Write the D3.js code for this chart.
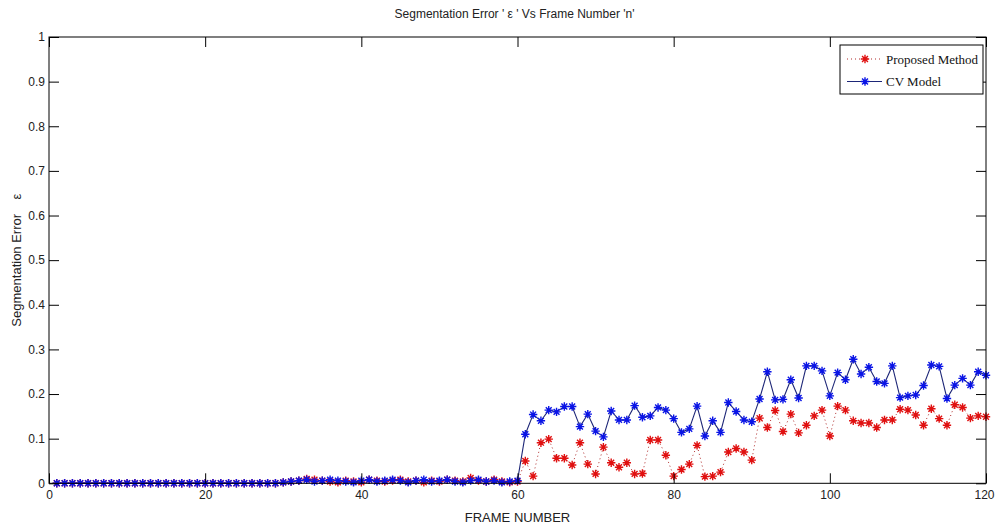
<!DOCTYPE html>
<html>
<head>
<meta charset="utf-8">
<script src="https://cdn.jsdelivr.net/npm/d3@7/dist/d3.min.js"></script>
<style>
  html, body { margin: 0; padding: 0; background: #fff; }
  svg { display: block; }
  .axis text { font-family: "Liberation Sans Narrow", "Liberation Sans", Arial, sans-serif; font-size: 12px; fill: #222; }
</style>
</head>
<body>
<div id="chart"></div>
<script>
const
  WIDTH = 995,
  HEIGHT = 524,
  TICK_LEN = 10;

const margin = { left: 49, right: 9, top: 37, bottom: 40.7 };

// frame numbers 1..120
const frames = d3.range(1, 121);

const proposed = [
  0, 0, 0, 0, 0, 0, 0, 0, 0, 0,
  0, 0, 0, 0, 0, 0, 0, 0, 0, 0,
  0, 0, 0, 0, 0, 0, 0, 0, 0, 0.002,
  0.004, 0.006, 0.010, 0.008, 0.006, 0.004, 0.002, 0.006, 0.004, 0.002,
  0.008, 0.006, 0.004, 0.006, 0.008, 0.004, 0.006, 0.002, 0.006, 0.004,
  0.008, 0.006, 0.004, 0.012, 0.006, 0.004, 0.008, 0.004, 0.002, 0.004,
  0.050, 0.016, 0.091, 0.099, 0.056, 0.056, 0.041, 0.091, 0.043, 0.021,
  0.081, 0.046, 0.036, 0.046, 0.021, 0.022, 0.097, 0.097, 0.063, 0.016,
  0.031, 0.043, 0.085, 0.015, 0.016, 0.025, 0.070, 0.078, 0.070, 0.052,
  0.146, 0.125, 0.163, 0.116, 0.155, 0.113, 0.130, 0.151, 0.164, 0.106,
  0.173, 0.164, 0.140, 0.135, 0.135, 0.125, 0.142, 0.142, 0.166, 0.164,
  0.153, 0.130, 0.167, 0.145, 0.130, 0.176, 0.170, 0.146, 0.151, 0.149
];

const cvModel = [
  0, 0, 0, 0, 0, 0, 0, 0, 0, 0,
  0, 0, 0, 0, 0, 0, 0, 0, 0, 0,
  0, 0, 0, 0, 0, 0, 0, 0, 0, 0.002,
  0.004, 0.006, 0.008, 0.004, 0.006, 0.008, 0.006, 0.004, 0.002, 0.006,
  0.008, 0.004, 0.006, 0.008, 0.006, 0.002, 0.006, 0.008, 0.004, 0.006,
  0.008, 0.004, 0.002, 0.006, 0.008, 0.004, 0.006, 0.002, 0.004, 0.006,
  0.110, 0.154, 0.140, 0.164, 0.160, 0.172, 0.172, 0.127, 0.155, 0.117,
  0.104, 0.162, 0.142, 0.142, 0.174, 0.148, 0.151, 0.170, 0.164, 0.145,
  0.114, 0.122, 0.173, 0.106, 0.140, 0.114, 0.181, 0.161, 0.142, 0.138,
  0.189, 0.250, 0.187, 0.188, 0.232, 0.191, 0.263, 0.263, 0.252, 0.196,
  0.248, 0.232, 0.278, 0.245, 0.260, 0.228, 0.224, 0.263, 0.192, 0.196,
  0.198, 0.219, 0.265, 0.262, 0.190, 0.220, 0.235, 0.220, 0.250, 0.242
];

const xTicks = [0, 20, 40, 60, 80, 100, 120];
const yTicks = [0, 0.1, 0.2, 0.3, 0.4, 0.5, 0.6, 0.7, 0.8, 0.9, 1];

const seriesNames = ['Proposed Method', 'CV Model'];

const styles = {
  proposed: { line: '#b02a2a', marker: '#e01010', dash: '1,3', width: 1 },
  cv: { line: '#1d2677', marker: '#0a14e6', dash: null, width: 1.1 }
};

const chartWidth = WIDTH - margin.left - margin.right;
const chartHeight = HEIGHT - margin.top - margin.bottom;

const svg = d3.select('#chart')
  .append('svg')
  .attr('width', WIDTH)
  .attr('height', HEIGHT);

const xScale = d3.scaleLinear().domain([0, 120]).range([0, chartWidth]);
const yScale = d3.scaleLinear().domain([0, 1]).range([chartHeight, 0]);

const plot = svg.append('g')
  .attr('transform', `translate(${margin.left},${margin.top})`);

// asterisk marker, like matlab '*'
function starPath(r) {
  const d = r * 0.7;
  return `M${-r},0H${r}M0,${-r}V${r}M${-d},${-d}L${d},${d}M${-d},${d}L${d},${-d}`;
}

function addSeries(values, style, cls) {
  const pts = frames.map((f, i) => [f, values[i]]);

  const line = d3.line()
    .x(d => xScale(d[0]))
    .y(d => yScale(d[1]));

  plot.append('path')
    .datum(pts)
    .attr('class', cls + '-line')
    .attr('fill', 'none')
    .attr('stroke', style.line)
    .attr('stroke-width', style.width)
    .attr('stroke-dasharray', style.dash)
    .attr('d', line);

  plot.append('g')
    .attr('class', cls + '-markers')
    .selectAll('path')
    .data(pts)
    .enter()
    .append('path')
    .attr('transform', d => `translate(${xScale(d[0])},${yScale(d[1])})`)
    .attr('d', starPath(4.2))
    .attr('fill', 'none')
    .attr('stroke', style.marker)
    .attr('stroke-width', 1.4);
}

function addAxes() {
  const bottom = d3.axisBottom(xScale)
    .tickValues(xTicks)
    .tickFormat(d3.format('d'))
    .tickSizeInner(-TICK_LEN)
    .tickSizeOuter(0)
    .tickPadding(7);

  const left = d3.axisLeft(yScale)
    .tickValues(yTicks)
    .tickFormat(d => d === 0 || d === 1 ? String(d) : d3.format('.1f')(d))
    .tickSizeInner(-TICK_LEN)
    .tickSizeOuter(0)
    .tickPadding(4);

  plot.append('g')
    .attr('class', 'axis axis-x')
    .attr('transform', `translate(0,${chartHeight})`)
    .call(bottom);

  // keep the last label inside the window
  plot.selectAll('.axis-x .tick text')
    .filter(d => d === 120)
    .attr('text-anchor', 'end')
    .attr('dx', '8');

  plot.append('g')
    .attr('class', 'axis axis-y')
    .call(left);

  // top and right ticks (box)
  plot.append('g')
    .attr('class', 'axis axis-top')
    .call(d3.axisTop(xScale).tickValues(xTicks).tickSizeInner(-TICK_LEN).tickSizeOuter(0).tickFormat(''));

  plot.append('g')
    .attr('class', 'axis axis-right')
    .attr('transform', `translate(${chartWidth},0)`)
    .call(d3.axisRight(yScale).tickValues(yTicks).tickSizeInner(-TICK_LEN).tickSizeOuter(0).tickFormat(''));

  plot.selectAll('.axis .domain').remove();
  plot.selectAll('.axis .tick line').attr('stroke', '#000');

  plot.append('rect')
    .attr('x', 0)
    .attr('y', 0)
    .attr('width', chartWidth)
    .attr('height', chartHeight)
    .attr('fill', 'none')
    .attr('stroke', '#000')
    .attr('stroke-width', 1);
}

function addLabels() {
  svg.append('text')
    .attr('x', margin.left + chartWidth / 2 - 3)
    .attr('y', 18)
    .attr('text-anchor', 'middle')
    .style('font-family', '"Liberation Sans Narrow", "Liberation Sans", Arial, sans-serif')
    .style('font-size', '12px')
    .attr('fill', '#222')
    .text("Segmentation Error ' \u03b5 ' Vs Frame Number 'n'");

  svg.append('text')
    .attr('x', margin.left + chartWidth / 2)
    .attr('y', 522)
    .attr('text-anchor', 'middle')
    .style('font-family', '"Liberation Sans Narrow", "Liberation Sans", Arial, sans-serif')
    .style('font-size', '13px')
    .attr('fill', '#222')
    .text('FRAME NUMBER');

  svg.append('text')
    .attr('transform', `translate(21,${margin.top + chartHeight / 2}) rotate(-90)`)
    .attr('text-anchor', 'middle')
    .style('font-family', '"Liberation Sans", Arial, sans-serif')
    .style('font-size', '13px')
    .attr('fill', '#222')
    .attr('xml:space', 'preserve')
    .text('Segmentation Error    \u03b5');
}

function addLegend() {
  const lg = svg.append('g')
    .attr('class', 'legend')
    .attr('transform', 'translate(840,45)');

  lg.append('rect')
    .attr('width', 143)
    .attr('height', 49)
    .attr('fill', '#fff')
    .attr('stroke', '#000');

  const entries = [styles.proposed, styles.cv];
  entries.forEach((st, i) => {
    const y = 14 + i * 22.5;
    lg.append('line')
      .attr('x1', 7).attr('x2', 42)
      .attr('y1', y).attr('y2', y)
      .attr('stroke', st.line)
      .attr('stroke-width', st.width)
      .attr('stroke-dasharray', st.dash);
    lg.append('path')
      .attr('transform', `translate(25,${y})`)
      .attr('d', starPath(4.2))
      .attr('fill', 'none')
      .attr('stroke', st.marker)
      .attr('stroke-width', 1.4);
    lg.append('text')
      .attr('x', 46)
      .attr('y', y + 4.5)
      .style('font-family', '"Liberation Serif", "Times New Roman", serif')
      .style('font-size', '13px')
      .attr('fill', '#111')
      .text(seriesNames[i]);
  });
}

addSeries(proposed, styles.proposed, 'proposed');
addSeries(cvModel, styles.cv, 'cv');
addAxes();
addLabels();
addLegend();
</script>
</body>
</html>
